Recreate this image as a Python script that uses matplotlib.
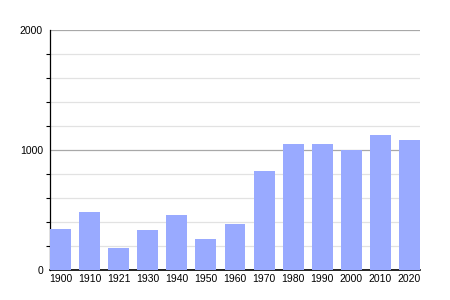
import matplotlib
matplotlib.use("Agg")
import matplotlib.pyplot as plt
import numpy as np

# Population by census year
years = ["1900", "1910", "1921", "1930", "1940", "1950", "1960",
         "1970", "1980", "1990", "2000", "2010", "2020"]
population = [344, 483, 183, 333, 458, 258, 383,
              825, 1050, 1050, 1002, 1125, 1083]

BAR_COLOR = "#99aaff"

plt.rcParams['font.family'] = ['Liberation Sans', 'DejaVu Sans']

fig = plt.figure(figsize=(4.5, 3), dpi=100)
ax = fig.add_axes([50 / 450, 30 / 300, 370 / 450, 240 / 300])

x = np.arange(len(years))
width = 0.72
ax.bar(x, population, width=width, color=BAR_COLOR, zorder=3)

ax.set_xlim(-width / 2, len(years) - 1 + width / 2)
ax.set_ylim(0, 2000)

# major grid every 1000, light minor grid every 200
ax.set_yticks([0, 1000, 2000])
ax.set_yticks(np.arange(200, 2000, 200), minor=True)
ax.grid(axis='y', which='major', color='#a8a8a8', linewidth=0.9, zorder=1)
ax.grid(axis='y', which='minor', color='#e2e2e2', linewidth=0.9, zorder=1)

ax.set_xticks(x)
ax.set_xticklabels(years)
ax.tick_params(axis='x', length=0, labelsize=7.5, pad=3)
ax.tick_params(axis='y', which='major', length=0, labelsize=7.5, pad=5)
ax.tick_params(axis='y', which='minor', length=3, width=0.8, color='black')

for side in ['top', 'right']:
    ax.spines[side].set_visible(False)
ax.spines['left'].set_linewidth(0.9)
ax.spines['bottom'].set_linewidth(1.2)

fig.savefig("out.png", dpi=100)
